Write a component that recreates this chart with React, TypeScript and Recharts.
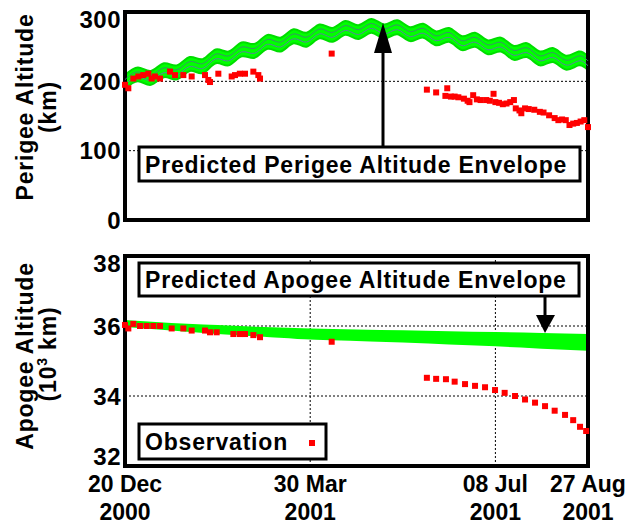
import {
  ComposedChart,
  Area,
  Line,
  Scatter,
  XAxis,
  YAxis,
  CartesianGrid,
  ReferenceArea,
} from "recharts";

const FONT = "'Liberation Sans', Arial, sans-serif";

// x axis: days since 20 Dec 2000
const tickDays = [0, 100, 200, 250];
const tickDates = ["20 Dec", "30 Mar", "08 Jul", "27 Aug"];
const tickYears = ["2000", "2001", "2001", "2001"];

const perigeeTicks = [0, 100, 200, 300];
const apogeeTicks = [32, 34, 36, 38];

// predicted perigee envelope (centre of band, km), peaks/troughs
const perigeeDays = [
  0, 7, 14, 21, 28, 35, 42, 49, 56, 63, 70, 77, 84, 91, 98, 105, 112, 119, 126,
  133, 140, 147, 154, 161, 168, 175, 182, 189, 196, 203, 210, 217, 224, 231, 238,
  245, 250,
];
const perigeeCentre = [
  199, 210, 205, 216, 213, 225, 222, 236, 233, 246, 244, 257, 253, 265, 260, 272,
  267, 277, 271, 280, 272, 278, 268, 273, 262, 267, 255, 260, 249, 253, 241, 245,
  233, 238, 227, 233, 226,
];
const PERIGEE_HALF_WIDTH = 10;
const PERIGEE_INNER = 3.5;

// observed perigee (km)
const perigeeObsDays = [
  0, 1.8, 4.5, 7.2, 9.9, 12.6, 14.4, 16.2, 18.9, 24.3, 27, 31.5, 36, 43.2, 45,
  45.9, 50.4, 57.6, 59.4, 62, 64.8, 69.3, 72, 72.9, 111.6, 163, 168, 173, 174,
  176, 178, 180, 183, 185, 186, 188, 190, 192, 195, 197, 199, 200, 202, 204, 206,
  208, 210, 211, 213, 214, 216, 218, 221, 224, 226, 229, 232, 234, 236, 238, 240,
  242, 244, 246, 248, 250,
];
const perigeeObsKm = [
  195, 190, 204, 207, 209, 211, 204, 207, 204, 214, 209, 209, 207, 209, 202, 199,
  211, 207, 209, 211, 211, 214, 209, 204, 240, 188, 184, 179, 190, 178, 178, 177,
  175, 172, 170, 180, 174, 173, 173, 172, 182, 170, 169, 167, 168, 170, 173, 161,
  158, 154, 161, 160, 159, 156, 155, 151, 147, 144, 145, 144, 137, 139, 140, 142,
  144, 134,
];

// predicted apogee envelope (10^3 km)
const apogeeDays = [0, 25, 50, 75, 100, 125, 150, 175, 200, 225, 250];
const apogeeUpper = [36.14, 36.06, 36.0, 35.94, 35.9, 35.87, 35.85, 35.82, 35.8, 35.77, 35.74];
const apogeeLower = [36.0, 35.9, 35.8, 35.72, 35.64, 35.6, 35.56, 35.5, 35.45, 35.38, 35.32];

// observed apogee (10^3 km)
const apogeeObsDays = [
  0, 1.8, 4.5, 8.1, 11.7, 15.3, 18.9, 25.2, 31.5, 36, 43.2, 45.9, 49.5, 58.5, 62,
  64.8, 69.3, 72.9, 111.6, 163, 168, 173.3, 178, 183.6, 189, 194.4, 199.8, 205,
  210.6, 216, 221.4, 226.8, 232, 237.6, 242, 245.7, 249,
];
const apogeeObsVal = [
  36.03, 35.93, 36.06, 36.0, 36.0, 36.0, 36.0, 35.93, 35.93, 35.87, 35.87, 35.82,
  35.82, 35.77, 35.77, 35.77, 35.74, 35.68, 35.55, 34.52, 34.49, 34.48, 34.41,
  34.34, 34.29, 34.25, 34.17, 34.09, 34.0, 33.9, 33.81, 33.71, 33.58, 33.46, 33.31,
  33.12, 33.0,
];

const perigeeBand = perigeeDays.map((day, i) => ({
  day,
  env: [perigeeCentre[i] - PERIGEE_HALF_WIDTH, perigeeCentre[i] + PERIGEE_HALF_WIDTH],
  innerLo: perigeeCentre[i] - PERIGEE_INNER,
  innerHi: perigeeCentre[i] + PERIGEE_INNER,
}));
const perigeeObs = perigeeObsDays.map((day, i) => ({ day, v: perigeeObsKm[i] }));
const apogeeBand = apogeeDays.map((day, i) => ({
  day,
  env: [apogeeLower[i], apogeeUpper[i]],
}));
const apogeeObs = apogeeObsDays.map((day, i) => ({ day, v: apogeeObsVal[i] }));

const RedSquare = (props: any) => (
  <rect x={props.cx - 3} y={props.cy - 3} width={6} height={6} fill="#ff0000" />
);

// y tick labels; the end labels are nudged inside like in the original
const ValueTick = (props: any) => {
  const { x, y, payload, ticks } = props;
  let shift = 0;
  if (payload.value === ticks[ticks.length - 1]) shift = 7;
  else if (payload.value === ticks[0] && ticks[0] !== 0) shift = -10;
  return (
    <text
      x={x}
      y={y + shift}
      dy="0.36em"
      textAnchor="end"
      fontSize={24}
      fontWeight={700}
      fontFamily={FONT}
      letterSpacing={0.5}
      fill="#000"
    >
      {payload.value}
    </text>
  );
};

const DateTick = (props: any) => {
  const { x, y, payload } = props;
  const i = tickDays.indexOf(payload.value);
  return (
    <text
      x={x}
      y={y}
      textAnchor="middle"
      fontSize={23}
      fontWeight={700}
      fontFamily={FONT}
      fill="#000"
    >
      <tspan x={x} dy={18}>
        {tickDates[i]}
      </tspan>
      <tspan x={x} dy={28}>
        {tickYears[i]}
      </tspan>
    </text>
  );
};

function Overlay() {
  const txt = {
    fontFamily: FONT,
    fontWeight: 700,
    fill: "#000",
  } as const;
  return (
    <svg
      width={644}
      height={525}
      style={{ position: "absolute", left: 0, top: 0, pointerEvents: "none" }}
    >
      {/* y axis titles */}
      <text {...txt} fontSize={23} letterSpacing={0.8} textAnchor="middle" transform="translate(33,107) rotate(-90)">
        Perigee Altitude
      </text>
      <text {...txt} fontSize={23} letterSpacing={0.8} textAnchor="middle" transform="translate(56,107) rotate(-90)">
        (km)
      </text>
      <text {...txt} fontSize={23} letterSpacing={0.8} textAnchor="middle" transform="translate(33,356) rotate(-90)">
        Apogee Altitude
      </text>
      <text {...txt} fontSize={23} letterSpacing={0.8} textAnchor="middle" transform="translate(56,354) rotate(-90)">
        (10<tspan fontSize={14} dy={-9}>3</tspan><tspan dy={9}> km)</tspan>
      </text>

      {/* perigee annotation */}
      <line x1={383} y1={147} x2={383} y2={50} stroke="#000" strokeWidth={3} />
      <polygon points="374,53 392,53 383,23" fill="#000" />
      <rect x={139} y={147} width={441} height={34} fill="#fff" stroke="#000" strokeWidth={3} />
      <text {...txt} x={145} y={173} fontSize={23} letterSpacing={0.8}>
        Predicted Perigee Altitude Envelope
      </text>

      {/* apogee annotation */}
      <line x1={545} y1={296} x2={545} y2={316} stroke="#000" strokeWidth={3} />
      <polygon points="536,315 555,315 545,333" fill="#000" />
      <rect x={139} y={263} width={440} height={33} fill="#fff" stroke="#000" strokeWidth={3} />
      <text {...txt} x={145} y={288} fontSize={23} letterSpacing={0.8}>
        Predicted Apogee Altitude Envelope
      </text>

      {/* legend */}
      <rect x={139} y={424} width={187} height={35} fill="#fff" stroke="#000" strokeWidth={3} />
      <text {...txt} x={145} y={450} fontSize={23} letterSpacing={0.8}>
        Observation
      </text>
      <rect x={309} y={440} width={6} height={6} fill="#ff0000" />
    </svg>
  );
}

export default function App() {
  return (
    <div
      style={{
        position: "absolute",
        left: 0,
        top: 0,
        width: 644,
        height: 525,
        background: "#fff",
        fontFamily: FONT,
      }}
    >
      <div style={{ position: "absolute", left: 0, top: 0 }}>
        <ComposedChart
          width={644}
          height={240}
          margin={{ top: 12, right: 56, bottom: 20, left: 65 }}
        >
          <CartesianGrid stroke="#000" strokeDasharray="2 2" />
          <XAxis
            type="number"
            dataKey="day"
            domain={[0, 250]}
            ticks={tickDays}
            height={0}
            tick={false}
            axisLine={false}
            tickLine={false}
            allowDuplicatedCategory={false}
          />
          <YAxis
            type="number"
            domain={[0, 300]}
            ticks={perigeeTicks}
            width={60}
            tickSize={0}
            tickMargin={4}
            axisLine={false}
            tick={<ValueTick ticks={perigeeTicks} />}
          />
          <Area
            data={perigeeBand}
            dataKey="env"
            type="natural"
            stroke="#00dd00"
            strokeWidth={2}
            fill="#00ff00"
            fillOpacity={1}
            isAnimationActive={false}
          />
          <Line
            data={perigeeBand}
            dataKey="innerHi"
            type="natural"
            stroke="#3c8f6a"
            strokeWidth={1}
            dot={false}
            isAnimationActive={false}
          />
          <Line
            data={perigeeBand}
            dataKey="innerLo"
            type="natural"
            stroke="#5a7fa0"
            strokeWidth={1}
            dot={false}
            isAnimationActive={false}
          />
          <Scatter
            data={perigeeObs}
            dataKey="v"
            shape={RedSquare}
            isAnimationActive={false}
          />
          <ReferenceArea
            x1={0}
            x2={250}
            y1={0}
            y2={300}
            fill="none"
            stroke="#000"
            strokeWidth={4}
            ifOverflow="visible"
          />
        </ComposedChart>
      </div>

      <div style={{ position: "absolute", left: 0, top: 240 }}>
        <ComposedChart
          width={644}
          height={285}
          margin={{ top: 16, right: 56, bottom: 0, left: 65 }}
        >
          <CartesianGrid stroke="#000" strokeDasharray="2 2" />
          <XAxis
            type="number"
            dataKey="day"
            domain={[0, 250]}
            ticks={tickDays}
            height={59}
            tickLine={false}
            axisLine={false}
            tick={<DateTick />}
            interval={0}
          />
          <YAxis
            type="number"
            domain={[32, 38]}
            ticks={apogeeTicks}
            width={60}
            tickSize={0}
            tickMargin={4}
            axisLine={false}
            tick={<ValueTick ticks={apogeeTicks} />}
          />
          <Area
            data={apogeeBand}
            dataKey="env"
            type="monotone"
            stroke="#00ff00"
            strokeWidth={2}
            fill="#00ff00"
            fillOpacity={1}
            isAnimationActive={false}
          />
          <Scatter
            data={apogeeObs}
            dataKey="v"
            shape={RedSquare}
            isAnimationActive={false}
          />
          <ReferenceArea
            x1={0}
            x2={250}
            y1={32}
            y2={38}
            fill="none"
            stroke="#000"
            strokeWidth={4}
            ifOverflow="visible"
          />
        </ComposedChart>
      </div>

      <Overlay />
    </div>
  );
}
